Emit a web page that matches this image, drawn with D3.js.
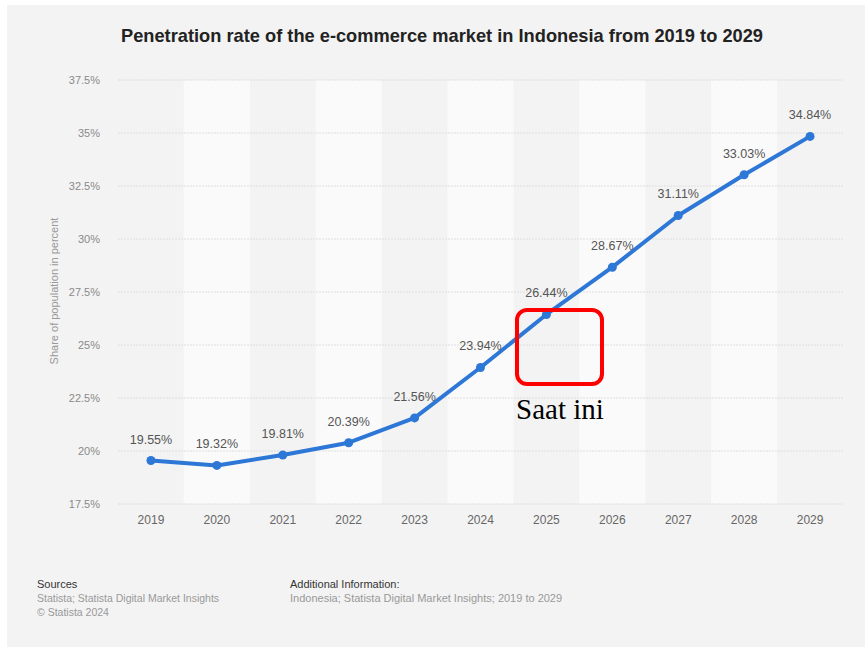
<!DOCTYPE html>
<html><head><meta charset="utf-8">
<script src="https://cdn.jsdelivr.net/npm/d3@7"></script>
<style>
body{margin:0;background:#fff;}
svg{display:block;font-family:"Liberation Sans",Arial,Helvetica,sans-serif;}
</style></head>
<body><svg id="c" width="865" height="647"></svg>
<script>
const years = ["2019","2020","2021","2022","2023","2024","2025","2026","2027","2028","2029"];
const rates = [19.55,19.32,19.81,20.39,21.56,23.94,26.44,28.67,31.11,33.03,34.84];
const rateLabels = ["19.55%","19.32%","19.81%","20.39%","21.56%","23.94%","26.44%","28.67%","31.11%","33.03%","34.84%"];
const yTicks = [17.5,20,22.5,25,27.5,30,32.5,35,37.5];
const yTickLabels = ["17.5%","20%","22.5%","25%","27.5%","30%","32.5%","35%","37.5%"];

const svg = d3.select("#c");
svg.append("rect").attr("x",7).attr("y",5).attr("width",858).attr("height",642).attr("fill","#f3f3f3");

svg.append("text").attr("x",442).attr("y",42).attr("text-anchor","middle")
  .attr("font-size",18.2).attr("font-weight","bold").attr("fill","#222")
  .attr("textLength",642).attr("lengthAdjust","spacingAndGlyphs")
  .text("Penetration rate of the e-commerce market in Indonesia from 2019 to 2029");

const x = d3.scaleBand().domain(years).range([118,843]).padding(0);
const y = d3.scaleLinear().domain([17.5,37.5]).range([504,80]);

// alternating bands
svg.append("g").selectAll("rect").data(years.filter((d,i)=>i%2===1)).join("rect")
  .attr("x",d=>x(d)).attr("width",x.bandwidth()).attr("y",y(37.5)).attr("height",y(17.5)-y(37.5))
  .attr("fill","#fafafa");

// grid
svg.append("g").selectAll("line").data(yTicks).join("line")
  .attr("x1",118).attr("x2",843).attr("y1",d=>y(d)).attr("y2",d=>y(d))
  .attr("stroke","#dedede").attr("stroke-width",1).attr("stroke-dasharray","2,1");

// y axis
const yAxis = d3.axisLeft(y).tickValues(yTicks).tickFormat((d,i)=>yTickLabels[i]).tickSize(0).tickPadding(0);
const gy = svg.append("g").attr("transform","translate(100,0)").call(yAxis);
gy.select(".domain").remove();
gy.selectAll("text").attr("font-size",11).attr("fill","#8a8a8a").attr("font-family","Liberation Sans,Arial,sans-serif");

// x axis
const xAxis = d3.axisBottom(x).tickSize(0).tickPadding(0);
const gx = svg.append("g").attr("transform","translate(0,515)").call(xAxis);
gx.select(".domain").remove();
gx.selectAll("text").attr("font-size",12).attr("fill","#666").attr("font-family","Liberation Sans,Arial,sans-serif");

svg.append("text").attr("transform","translate(58,291) rotate(-90)").attr("text-anchor","middle")
  .attr("font-size",11).attr("fill","#999").text("Share of population in percent");

// line
const line = d3.line().x((d,i)=>x(years[i])+x.bandwidth()/2).y(d=>y(d));
svg.append("path").datum(rates).attr("d",line).attr("fill","none")
  .attr("stroke","#2d77d6").attr("stroke-width",4).attr("stroke-linejoin","round").attr("stroke-linecap","round");
svg.append("g").selectAll("circle").data(rates).join("circle")
  .attr("cx",(d,i)=>x(years[i])+x.bandwidth()/2).attr("cy",d=>y(d)).attr("r",4.5).attr("fill","#2d77d6");
svg.append("g").selectAll("text").data(rates).join("text")
  .attr("x",(d,i)=>x(years[i])+x.bandwidth()/2).attr("y",d=>y(d)-17)
  .attr("text-anchor","middle").attr("font-size",12.5).attr("fill","#555")
  .text((d,i)=>rateLabels[i]);

// annotation
svg.append("rect").attr("x",517).attr("y",310).attr("width",85).attr("height",74).attr("rx",10).attr("ry",10)
  .attr("fill","none").attr("stroke","#ff0000").attr("stroke-width",4);
svg.append("text").attr("x",560).attr("y",419).attr("text-anchor","middle")
  .attr("font-family","Liberation Serif,Times New Roman,serif").attr("font-size",29).attr("fill","#000")
  .text("Saat ini");

// footer
const f = svg.append("g").attr("font-size",11);
f.append("text").attr("x",37).attr("y",588).attr("fill","#333").text("Sources");
f.append("text").attr("x",37).attr("y",602).attr("fill","#999").attr("font-size",10.5).text("Statista; Statista Digital Market Insights");
f.append("text").attr("x",37).attr("y",616).attr("fill","#999").attr("font-size",10.5).text("© Statista 2024");
f.append("text").attr("x",290).attr("y",588).attr("fill","#333").text("Additional Information:");
f.append("text").attr("x",290).attr("y",602).attr("fill","#999").text("Indonesia; Statista Digital Market Insights; 2019 to 2029");
</script></body></html>
